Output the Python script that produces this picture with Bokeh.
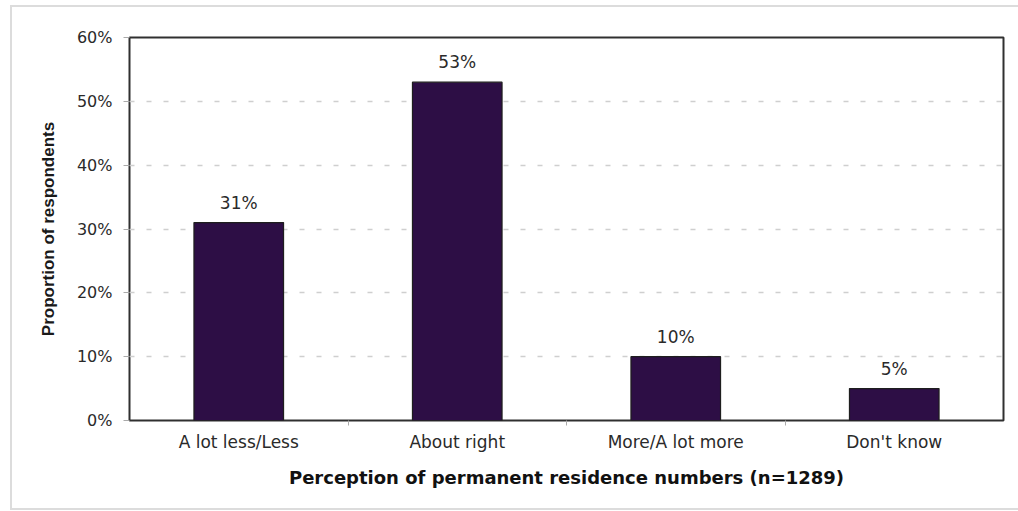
from bokeh.plotting import figure
from bokeh.models import FixedTicker, ColumnDataSource, LabelSet, Range1d
from bokeh.core.properties import value
from bokeh.embed import file_html
from bokeh.resources import INLINE

categories = ["A lot less/Less", "About right", "More/A lot more", "Don't know"]
values = [31, 53, 10, 5]
labels = ["31%", "53%", "10%", "5%"]
y_ticks = [0, 10, 20, 30, 40, 50, 60]

FONT = "DejaVu Sans"
x = list(range(len(categories)))
src = ColumnDataSource(dict(x=x, top=values, lab=labels))

g = "linear-gradient(#dcdcdc,#dcdcdc)"
bg = (f"{g} 10px 5px / 2px 505px no-repeat, "
      f"{g} 10px 5px / 1010px 2px no-repeat, "
      f"{g} 10px 508px / 1010px 2px no-repeat, white")

p = figure(width=1018, height=511, output_backend="svg", toolbar_location=None,
           x_range=Range1d(-0.5, len(categories) - 0.5), y_range=Range1d(0, 60),
           min_border_left=129, min_border_right=15, min_border_top=37, min_border_bottom=91,
           styles={"background": bg})
p.border_fill_color = None
p.background_fill_color = "white"

p.vbar(x="x", top="top", bottom=0, width=0.41, source=src,
       fill_color="#2d0e45", line_color="#1e1e1e", line_width=1.2)

p.add_layout(LabelSet(x="x", y="top", text="lab", source=src, text_align="center",
                      text_baseline="bottom", y_offset=10, text_font=value(FONT),
                      text_font_size="17px", text_color="#2a2a2a"))

p.outline_line_color = "#303030"
p.outline_line_width = 2

# y axis
yaxis = p.yaxis[0]
yaxis.ticker = FixedTicker(ticks=y_ticks)
yaxis.major_label_overrides = {v: f"{v}%" for v in y_ticks}
yaxis.axis_line_color = None
yaxis.major_tick_in = 0
yaxis.major_tick_out = 6
yaxis.major_tick_line_color = "#aaaaaa"
yaxis.minor_tick_line_color = None
yaxis.major_label_standoff = 11
yaxis.major_label_text_font = FONT
yaxis.major_label_text_font_size = "16px"
yaxis.major_label_text_color = "#2a2a2a"
yaxis.axis_label = "Proportion of respondents"
yaxis.axis_label_text_font = "Liberation Sans"
yaxis.axis_label_text_font_style = "bold"
yaxis.axis_label_text_font_size = "17px"
yaxis.axis_label_text_color = "#1a1a1a"
yaxis.axis_label_standoff = 16

# x axis
xaxis = p.xaxis[0]
xaxis.ticker = FixedTicker(ticks=x, minor_ticks=[i + 0.5 for i in x[:-1]])
xaxis.major_label_overrides = {i: c for i, c in zip(x, categories)}
xaxis.axis_line_color = None
xaxis.major_tick_in = 0
xaxis.major_tick_out = 0
xaxis.minor_tick_in = 0
xaxis.minor_tick_out = 5
xaxis.minor_tick_line_color = "#aaaaaa"
xaxis.major_label_standoff = 6
xaxis.major_label_text_font = FONT
xaxis.major_label_text_font_size = "17px"
xaxis.major_label_text_color = "#2a2a2a"
xaxis.axis_label = "Perception of permanent residence numbers (n=1289)"
xaxis.axis_label_text_font = FONT
xaxis.axis_label_text_font_style = "bold"
xaxis.axis_label_text_font_size = "18px"
xaxis.axis_label_text_color = "#111111"
xaxis.axis_label_standoff = 12

p.xgrid.grid_line_color = None
p.ygrid.ticker = FixedTicker(ticks=y_ticks[1:-1])
p.ygrid.grid_line_color = "#cfcfcf"
p.ygrid.grid_line_width = 1.5
p.ygrid.grid_line_dash = "5 12"

open("out.html", "w").write(file_html(p, INLINE))
